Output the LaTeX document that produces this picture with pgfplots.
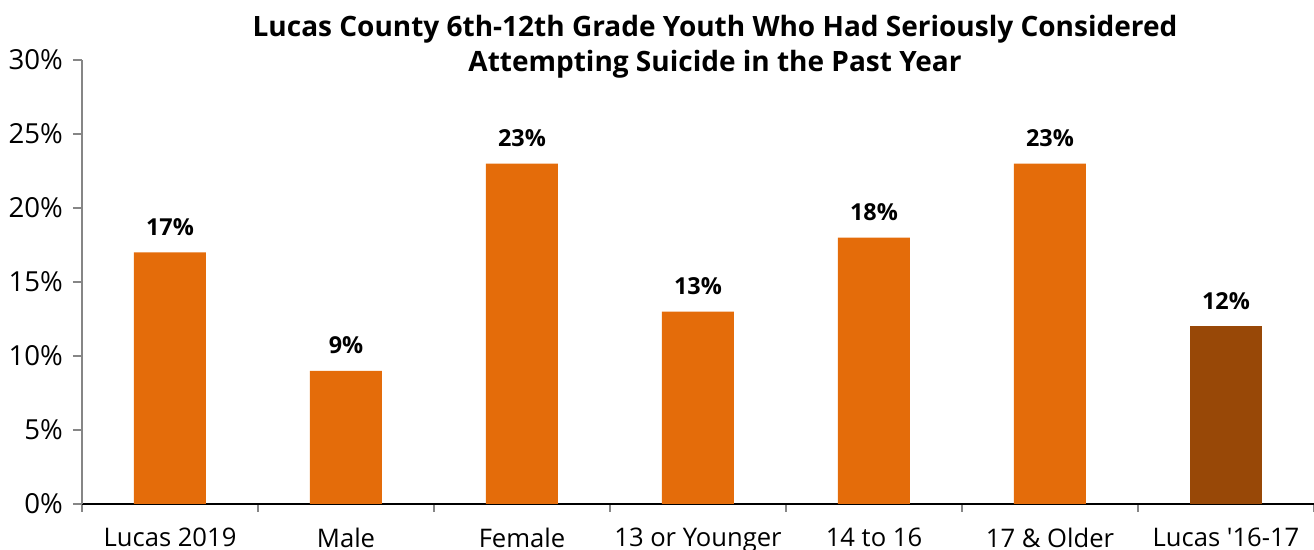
\documentclass[border=0pt]{standalone}
\usepackage{fontspec}
\setmainfont{Open Sans}
\usepackage{pgfplots}
\pgfplotsset{compat=1.18}
\definecolor{orng}{RGB}{228,108,10}
\definecolor{brwn}{RGB}{152,72,7}
\definecolor{axgray}{RGB}{134,134,134}
\begin{document}
\begin{tikzpicture}
\begin{axis}[
  scale only axis, width=616pt, height=222pt,
  xmin=-0.5, xmax=6.5, ymin=0, ymax=30,
  axis lines*=left,
  y axis line style={axgray, line width=0.7pt},
  x axis line style={black, line width=0.6pt},
  ybar, bar width=36pt, bar shift=0pt,
  ytick={0,5,...,30},
  yticklabel={\pgfmathprintnumber{\tick}\%},
  /pgf/number format/assume math mode=true,
  tick align=outside,
  major tick length=4.5pt, minor tick length=4pt,
  ytick style={axgray, line width=0.6pt},
  yticklabel style={font=\fontsize{13.8}{15}\selectfont, xshift=-1.5pt},
  xtick={0,...,6},
  xticklabels={Lucas 2019, Male, Female, 13 or Younger, 14 to 16, 17 \& Older, Lucas \textquotesingle16-17},
  major x tick style={draw=none},
  minor xtick={-0.5,0.5,...,6.5},
  minor x tick style={axgray, line width=0.6pt},
  xticklabel style={font=\fontsize{12.8}{15}\selectfont, yshift=-4pt},
  nodes near coords={\pgfmathprintnumber{\pgfplotspointmeta}\%},
  nodes near coords style={font=\fontsize{11.7}{13}\selectfont\bfseries, yshift=5pt},
]
\addplot[fill=orng, draw=none] coordinates {(0,17) (1,9) (2,23) (3,13) (4,18) (5,23)};
\addplot[fill=brwn, draw=none] coordinates {(6,12)};
\end{axis}
\node[font=\fontsize{14}{17.5}\selectfont\bfseries, align=center] at (316.5pt,228.75pt)
  {Lucas County 6th-12th Grade Youth Who Had Seriously Considered\\Attempting Suicide in the Past Year};
\pgfresetboundingbox
\path[use as bounding box] (-41pt,-23pt) rectangle (616pt,252pt);
\end{tikzpicture}
\end{document}
